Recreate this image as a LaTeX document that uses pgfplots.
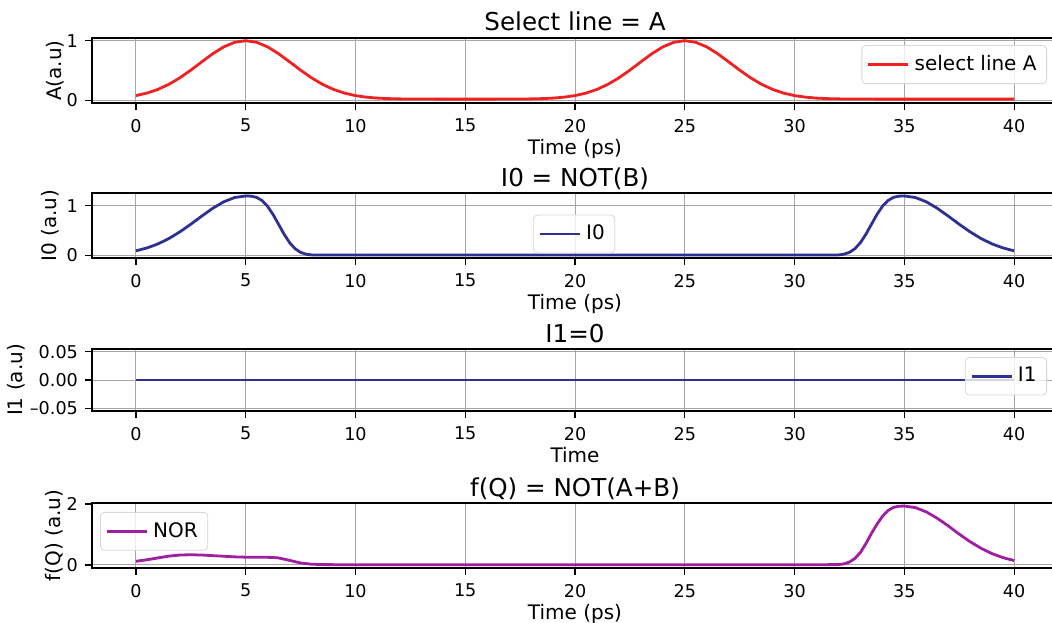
\documentclass[border=0pt]{standalone}
\usepackage{pgfplots}
\pgfplotsset{compat=1.18}
\usepackage{fontspec}
\setmainfont{DejaVu Sans}
\definecolor{cred}{RGB}{238,34,34}
\definecolor{cblue}{RGB}{46,49,146}
\definecolor{cpurple}{RGB}{160,30,160}
\definecolor{cgrid}{RGB}{170,164,164}
\definecolor{clegend}{RGB}{215,215,215}
\pgfplotsset{
  panel/.style={
    scale only axis, width=483pt, xmin=-2, xmax=42,
    xtick={0,5,...,40},
    scaled y ticks=false,
    axis line style={line width=0.85pt},
    tick style={black, line width=0.6pt},
    tick align=outside, major tick length=3.5pt,
    tick pos=left,
    grid=major, grid style={cgrid, line width=0.5pt},
    /pgf/number format/assume math mode=true,
    tick label style={font=\fontsize{8.8}{10}\selectfont},
    xticklabel style={yshift=-1pt},
    label style={font=\fontsize{10}{12}\selectfont},
    ylabel style={inner sep=1pt},
    title style={font=\fontsize{12.3}{14}\selectfont, at={(0.5,1)}, anchor=base, yshift=-2.5pt},
    xlabel style={at={(axis description cs:0.5,0)}, anchor=base, yshift=-25.5pt},
    legend style={draw=clegend, rounded corners=2pt, fill=white, fill opacity=0.8,
      text opacity=1, font=\fontsize{10}{12}\selectfont, inner sep=2.5pt,
      nodes={inner sep=2.5pt}},
    legend cell align=left,
    legend image code/.code={\draw[##1] (0pt,0pt) -- (20pt,0pt);},
    every axis plot/.append style={line width=1.4pt},
  }
}
\begin{document}
\begin{tikzpicture}
\useasboundingbox (0,0) rectangle (526pt,311pt);
\clip (0,0) rectangle (526pt,311pt);
% Panel 1
\begin{axis}[panel, at={(46pt,259.5pt)}, anchor=south west, height=32.5pt,
  ymin=-0.045, ymax=1.045, ytick={0,1}, ylabel shift=-3pt,
  title={Select line = A}, xlabel={Time (ps)}, ylabel={A(a.u)},
  legend style={at={(0.9886,0.892)}, anchor=north east}]
\addplot[cred] coordinates {
(0,0.079) (0.5,0.121) (1,0.183) (1.5,0.268) (2,0.377) (2.5,0.506) (3,0.645) (3.5,0.781) (4,0.896) (4.5,0.973) (5,1.0)
(5.5,0.973) (6,0.896) (6.5,0.781) (7,0.645) (7.5,0.506) (8,0.377) (8.5,0.268) (9,0.183) (9.5,0.121) (10,0.079)
(10.5,0.053) (11,0.037) (11.5,0.0285) (12,0.024) (12.5,0.022) (13,0.021) (14,0.02) (15,0.02) (16,0.02)
(17,0.021) (17.5,0.022) (18,0.024) (18.5,0.0285) (19,0.037) (19.5,0.053)
(20,0.079) (20.5,0.121) (21,0.183) (21.5,0.268) (22,0.377) (22.5,0.506) (23,0.645) (23.5,0.781) (24,0.896) (24.5,0.973) (25,1.0)
(25.5,0.973) (26,0.896) (26.5,0.781) (27,0.645) (27.5,0.506) (28,0.377) (28.5,0.268) (29,0.183) (29.5,0.121) (30,0.079)
(30.5,0.053) (31,0.037) (31.5,0.0285) (32,0.024) (32.5,0.022) (33,0.021) (34,0.02) (36,0.02) (38,0.02) (40,0.02)
};
\addlegendentry{select line A}
\end{axis}
% Panel 2
\begin{axis}[panel, at={(46pt,182pt)}, anchor=south west, height=32.5pt,
  ymin=-0.055, ymax=1.26, ytick={0,1}, ylabel shift=-0.5pt,
  title={I0 = NOT(B)}, xlabel={Time (ps)}, ylabel={I0 (a.u)},
  legend style={at={(0.499,0.369)}, anchor=center}]
\addplot[cblue] coordinates {
(0,0.09) (0.5,0.148) (1,0.229) (1.5,0.338) (2,0.473) (2.5,0.628) (3,0.793) (3.5,0.951) (4,1.082) (4.5,1.169) (5,1.2)
(5.25,1.196) (5.5,1.171) (5.75,1.106) (6,0.989) (6.25,0.823) (6.5,0.625) (6.75,0.426) (7,0.256) (7.25,0.133) (7.5,0.059) (7.75,0.022) (8,0.007) (8.5,0.005)
(12,0.005) (16,0.005) (20,0.005) (24,0.005) (28,0.005) (31.5,0.005)
(32,0.007) (32.25,0.022) (32.5,0.059) (32.75,0.133) (33,0.256) (33.25,0.426) (33.5,0.625) (33.75,0.823) (34,0.989) (34.25,1.106) (34.5,1.171) (34.75,1.196) (35,1.2)
(35.5,1.169) (36,1.082) (36.5,0.951) (37,0.793) (37.5,0.628) (38,0.473) (38.5,0.338) (39,0.229) (39.5,0.148) (40,0.09)
};
\addlegendentry{I0}
\end{axis}
% Panel 3
\begin{axis}[panel, at={(46pt,105.5pt)}, anchor=south west, height=31pt,
  ymin=-0.055, ymax=0.055, ytick={-0.05,0,0.05}, yticklabels={–0.05,0.00,0.05},
  ylabel shift=-2pt,
  title={I1=0}, xlabel={Time}, ylabel={I1 (a.u)},
  legend style={at={(0.9886,0.871)}, anchor=north east}]
\addplot[cblue] coordinates {(0,0) (10,0) (20,0) (30,0) (40,0)};
\addlegendentry{I1}
\end{axis}
% Panel 4
\begin{axis}[panel, at={(46pt,27pt)}, anchor=south west, height=32.5pt,
  ymin=-0.1, ymax=2.03, ytick={0,2}, ylabel shift=-2.5pt,
  title={f(Q) = NOT(A+B)}, xlabel={Time (ps)}, ylabel={f(Q) (a.u)},
  legend style={at={(0.0083,0.862)}, anchor=north west}]
\addplot[cpurple] coordinates {
(0,0.12) (0.5,0.17) (1,0.23) (1.5,0.29) (2,0.325) (2.5,0.335) (3,0.325) (3.5,0.305) (4,0.285) (4.5,0.265) (5,0.255)
(5.5,0.25) (6,0.25) (6.25,0.245) (6.5,0.23) (7,0.15) (7.5,0.065) (8,0.025) (8.5,0.012) (9,0.01)
(14,0.01) (20,0.01) (26,0.01) (31.5,0.01)
(32,0.012) (32.25,0.035) (32.5,0.095) (32.75,0.214) (33,0.41) (33.25,0.70) (33.5,1.03) (33.75,1.33) (34,1.59) (34.25,1.78) (34.5,1.885) (34.75,1.925) (35,1.93)
(35.5,1.88) (36,1.74) (36.5,1.53) (37,1.28) (37.5,1.01) (38,0.76) (38.5,0.544) (39,0.369) (39.5,0.238) (40,0.145)
};
\addlegendentry{NOR}
\end{axis}
\end{tikzpicture}
\end{document}
